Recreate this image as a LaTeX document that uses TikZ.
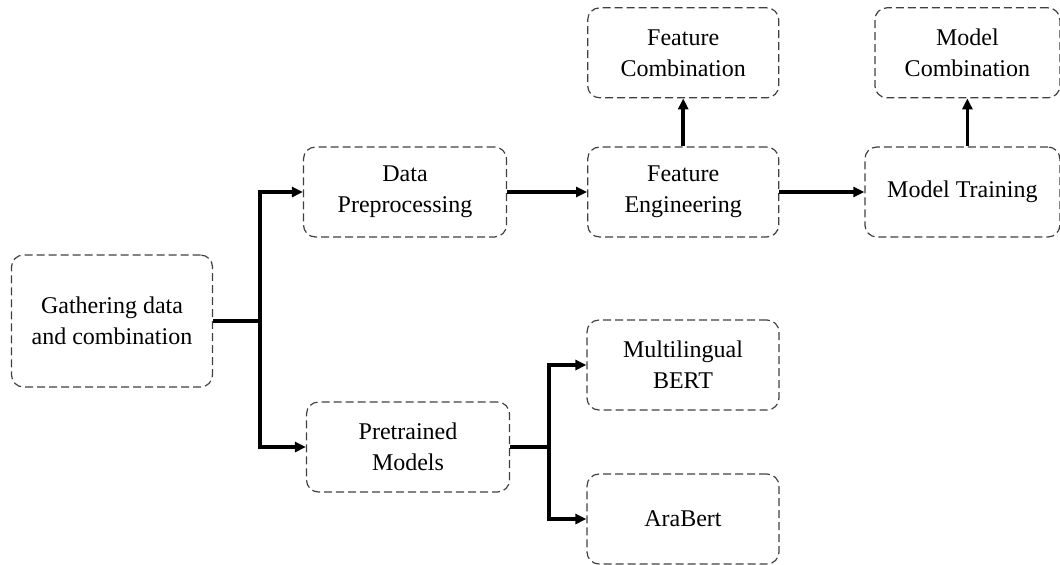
\documentclass[tikz,border=0pt]{standalone}
\usepackage{fontspec}
\setmainfont{Liberation Serif}
\usepackage{tikz}
\usetikzlibrary{arrows.meta,positioning}

\begin{document}
\begin{tikzpicture}[
  x=0.5pt, y=-0.5pt, node distance=24pt,
  stage/.style={rectangle, rounded corners=6pt, draw=black!75,
    dash pattern=on 4pt off 2pt, line width=0.6pt, align=center,
    minimum height=45pt, inner sep=2pt,
    font=\fontsize{12}{15.5}\selectfont},
  arrow/.style={-{Triangle[length=5.5pt,width=5pt]}, line width=1.8pt}]
  \useasboundingbox (0,0) rectangle (1060,564);
  \node[stage, minimum width=100.5pt, minimum height=66pt] (gather) at (112,321)
    {Gathering data\\and combination};
  \node[stage, minimum width=101.5pt] (prep) at (405,192) {Data\\Preprocessing};
  \node[stage, minimum width=101.5pt] (pretr) at (408,447) {Pretrained\\Models};
  \node[stage, minimum width=95.5pt, right=40pt of prep] (feng) {Feature\\Engineering};
  \node[stage, minimum width=95.5pt, above=of feng] (fcomb) {Feature\\Combination};
  \node[stage, minimum width=97.5pt, right=42.5pt of feng] (mtrain) {Model Training};
  \node[stage, minimum width=92.5pt, above=of mtrain, xshift=2.5pt] (mcomb) {Model\\Combination};
  \node[stage, minimum width=96pt] (mbert) at (683,365) {Multilingual\\BERT};
  \node[stage, minimum width=96pt] (arabert) at (683,519) {AraBert};
  \coordinate (fork1) at (260,321);
  \coordinate (fork2) at (549,447);
  \draw[arrow] (gather.east) -- (fork1) |- (prep.west);
  \draw[arrow] (fork1) |- (pretr.west);
  \draw[arrow] (pretr.east) -- (fork2) |- (mbert.west);
  \draw[arrow] (fork2) |- (arabert.west);
  \draw[arrow] (prep) -- (feng);
  \draw[arrow] (feng) -- (mtrain);
  \draw[arrow] (feng) -- (fcomb);
  \draw[arrow] (mcomb.south |- mtrain.north) -- (mcomb.south);
\end{tikzpicture}
\end{document}
